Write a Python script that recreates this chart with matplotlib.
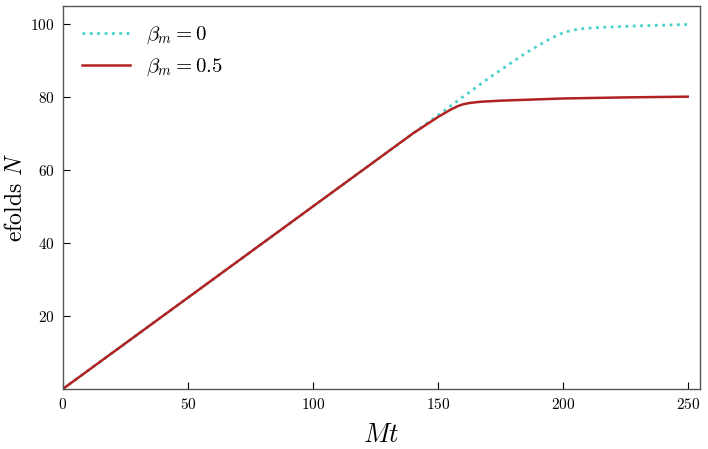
import matplotlib
matplotlib.use("Agg")
import matplotlib.pyplot as plt
import numpy as np

# ===== DATA =====
t_beta0 = [0, 50, 100, 150, 170, 185, 195, 200, 203, 207, 215, 230, 250]
N_beta0 = [0, 25, 50, 75, 85, 92, 96, 97.6, 98.2, 98.7, 99.1, 99.5, 99.9]

t_beta05 = [0, 50, 100, 140, 150, 155, 158, 160, 163, 167, 175, 200, 225, 250]
N_beta05 = [0, 25, 50, 70, 74.5, 76.5, 77.5, 78.0, 78.4, 78.7, 79.0, 79.6, 79.9, 80.1]

label_beta0 = r"$\beta_m = 0$"
label_beta05 = r"$\beta_m = 0.5$"

# ===== STYLE =====
plt.rcParams["font.family"] = "cmr10"
plt.rcParams["mathtext.fontset"] = "cm"
plt.rcParams["axes.formatter.use_mathtext"] = True

fig, ax = plt.subplots(figsize=(7.08, 4.49), dpi=100)
fig.subplots_adjust(left=0.089, right=0.989, top=0.987, bottom=0.134)

ax.plot(t_beta0, N_beta0, color="#48D1CC", linestyle=":", linewidth=2.0, label=label_beta0)
ax.plot(t_beta05, N_beta05, color="#B22222", linestyle="-", linewidth=1.8, label=label_beta05)

ax.set_xlim(0, 255)
ax.set_ylim(0, 105)
ax.set_xticks([0, 50, 100, 150, 200, 250])
ax.set_yticks([20, 40, 60, 80, 100])

ax.tick_params(direction="in", length=5, labelsize=11, pad=6)
for side in ["top", "right", "bottom", "left"]:
    ax.spines[side].set_color("#555555")
    ax.spines[side].set_linewidth(1.0)

ax.set_xlabel(r"$Mt$", fontsize=19, labelpad=8)
ax.set_ylabel(r"efolds $N$", fontsize=17)
ax.yaxis.set_label_coords(-0.056, 0.5)

ax.legend(loc="upper left", frameon=False, fontsize=15, handlelength=2.3)

plt.savefig("out.png", dpi=100)
plt.close()
